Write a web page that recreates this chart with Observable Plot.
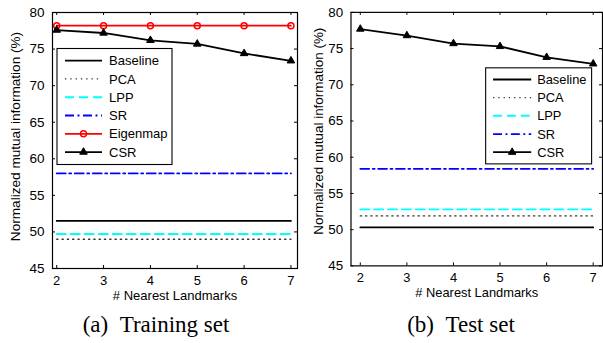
<!DOCTYPE html>
<html><head><meta charset="utf-8">
<script src="https://cdn.jsdelivr.net/npm/d3@7"></script>
<script src="https://cdn.jsdelivr.net/npm/@observablehq/plot@0.6"></script>
<style>
body{margin:0;background:#fff;}
#wrap{position:relative;width:603px;height:343px;overflow:hidden;background:#fff;}
.panel{position:absolute;top:0;}
.cap{position:absolute;top:313px;font-family:"Liberation Serif","Times New Roman",serif;font-size:23px;line-height:23px;white-space:nowrap;transform:translateX(-50%);color:#000;}
</style></head>
<body>
<div id="wrap">
  <div id="left" class="panel" style="left:0px"></div>
  <div id="right" class="panel" style="left:300px"></div>
  <div class="cap" style="left:156px">(a)&ensp;Training set</div>
  <div class="cap" style="left:461px">(b)&ensp;Test set</div>
</div>
<script>
// ---- data ----
const landmarks = [2, 3, 4, 5, 6, 7];
const xTicks = [2, 3, 4, 5, 6, 7];
const yTicks = [45, 50, 55, 60, 65, 70, 75, 80];
const xLabel = "# Nearest Landmarks";
const yLabel = "Normalized mutual information (%)";

const trainBaseline = [51.5, 51.5, 51.5, 51.5, 51.5, 51.5];
const trainPCA      = [49.0, 49.0, 49.0, 49.0, 49.0, 49.0];
const trainLPP      = [49.7, 49.7, 49.7, 49.7, 49.7, 49.7];
const trainSR       = [58.0, 58.0, 58.0, 58.0, 58.0, 58.0];
const trainEigenmap = [78.2, 78.2, 78.2, 78.2, 78.2, 78.2];
const trainCSR      = [77.6, 77.2, 76.2, 75.7, 74.4, 73.4];

const testBaseline = [50.3, 50.3, 50.3, 50.3, 50.3, 50.3];
const testPCA      = [51.9, 51.9, 51.9, 51.9, 51.9, 51.9];
const testLPP      = [52.8, 52.8, 52.8, 52.8, 52.8, 52.8];
const testSR       = [58.4, 58.4, 58.4, 58.4, 58.4, 58.4];
const testCSR      = [77.7, 76.8, 75.7, 75.3, 73.8, 72.9];

// ---- styles ----
const styles = {
  Baseline: {stroke: "#000", strokeWidth: 1.8},
  PCA:      {stroke: "#333", strokeWidth: 1.3, strokeDasharray: "1.3,4"},
  LPP:      {stroke: "#00ffff", strokeWidth: 2, strokeDasharray: "9,5"},
  SR:       {stroke: "#0000ff", strokeWidth: 1.8, strokeDasharray: "9,3.5,2,3.5"},
  Eigenmap: {stroke: "#ff0000", strokeWidth: 1.8, marker: "circle"},
  CSR:      {stroke: "#000", strokeWidth: 1.8, marker: "triangle"}
};
const FONT = '"Liberation Sans", Arial, Helvetica, sans-serif';

function panel(cfg) {
  const H = 306, mt = 12, mb = 38;
  const ph = H - mt - mb, pw = cfg.width - cfg.ml - cfg.mr;
  const marks = [
    Plot.axisX(xTicks, {tickSize: 0, tickPadding: 7, label: null, fontSize: 13}),
    Plot.axisY(yTicks, {tickSize: 0, tickPadding: 8, label: null, fontSize: 13.5}),
    Plot.ruleX(xTicks, {insetTop: ph - 3, stroke: "#000"}),
    Plot.ruleX(xTicks, {insetBottom: ph - 3, stroke: "#000"}),
    Plot.ruleY(yTicks, {insetRight: pw - 3, stroke: "#000"}),
    Plot.ruleY(yTicks, {insetLeft: pw - 3, stroke: "#000"})
  ];
  for (const s of cfg.series) {
    const st = styles[s.name];
    const rows = landmarks.map((x, i) => ({x, y: s.values[i]}));
    marks.push(Plot.line(rows, {x: "x", y: "y", stroke: st.stroke, strokeWidth: st.strokeWidth,
      strokeDasharray: st.strokeDasharray}));
    if (st.marker === "circle")
      marks.push(Plot.dot(rows, {x: "x", y: "y", r: 3, stroke: st.stroke, strokeWidth: 1.5, fill: "none"}));
    if (st.marker === "triangle")
      marks.push(Plot.dot(rows, {x: "x", y: "y", r: 2.8, symbol: "triangle", fill: "#000", stroke: "#000", strokeWidth: 1}));
  }
  marks.push(Plot.frame({stroke: "#000", strokeWidth: 1.2}));
  marks.push(Plot.text([xLabel], {text: d => d, frameAnchor: "bottom", dy: 27, lineAnchor: "middle", fontSize: 13}));
  marks.push(Plot.text([yLabel], {text: d => d, frameAnchor: "left", textAnchor: "middle", lineAnchor: "middle",
    rotate: -90, dx: cfg.ylx, dy: cfg.yly, fontSize: 13.6}));
  const svg = Plot.plot({
    width: cfg.width, height: H, marginLeft: cfg.ml, marginRight: cfg.mr, marginTop: mt, marginBottom: mb,
    x: {domain: cfg.xDomain}, y: {domain: [45, 80]},
    style: {fontFamily: FONT, fontSize: "13px", color: "#000", background: "transparent", overflow: "visible"},
    marks
  });
  // legend
  const L = cfg.legend;
  const g = d3.select(svg).append("g").attr("font-family", FONT).attr("font-size", 13).attr("text-anchor", "start");
  g.append("rect").attr("x", L.x).attr("y", L.y).attr("width", L.w).attr("height", L.h)
    .attr("fill", "#fff").attr("stroke", "#000").attr("stroke-width", 1.1);
  cfg.series.forEach((s, i) => {
    const st = styles[s.name];
    const y = L.y0 + i * L.dy;
    g.append("line").attr("x1", L.lx1).attr("x2", L.lx2).attr("y1", y).attr("y2", y)
      .attr("stroke", st.stroke).attr("stroke-width", st.strokeWidth)
      .attr("stroke-dasharray", st.strokeDasharray || null);
    const mx = (L.lx1 + L.lx2) / 2;
    if (st.marker === "circle")
      g.append("circle").attr("cx", mx).attr("cy", y).attr("r", 3).attr("fill", "none")
        .attr("stroke", st.stroke).attr("stroke-width", 1.5);
    if (st.marker === "triangle")
      g.append("path").attr("transform", `translate(${mx},${y})`)
        .attr("d", d3.symbol(d3.symbolTriangle, 2.8 * 2.8 * Math.PI)()).attr("fill", "#000").attr("stroke", "#000");
    g.append("text").attr("x", L.tx).attr("y", y).attr("dy", "0.35em").attr("text-anchor", "start").text(s.name);
  });
  return svg;
}

document.getElementById("left").appendChild(panel({
  width: 300, ml: 52, mr: 3, xDomain: [1.91, 7.14], ylx: -36.5, yly: -4,
  series: [
    {name: "Baseline", values: trainBaseline},
    {name: "PCA", values: trainPCA},
    {name: "LPP", values: trainLPP},
    {name: "SR", values: trainSR},
    {name: "Eigenmap", values: trainEigenmap},
    {name: "CSR", values: trainCSR}
  ],
  legend: {x: 57, y: 48.5, w: 115, h: 116, y0: 60.7, dy: 18.27, lx1: 65, lx2: 102, tx: 109}
}));

document.getElementById("right").appendChild(panel({
  width: 306, ml: 51, mr: 1, xDomain: [1.8, 7.2], ylx: -32.5, yly: -8,
  series: [
    {name: "Baseline", values: testBaseline},
    {name: "PCA", values: testPCA},
    {name: "LPP", values: testLPP},
    {name: "SR", values: testSR},
    {name: "CSR", values: testCSR}
  ],
  legend: {x: 187.5, y: 68.5, w: 107, h: 97, y0: 80.3, dy: 18.35, lx1: 195, lx2: 233.5, tx: 239.5}
}));
</script>
</body></html>
